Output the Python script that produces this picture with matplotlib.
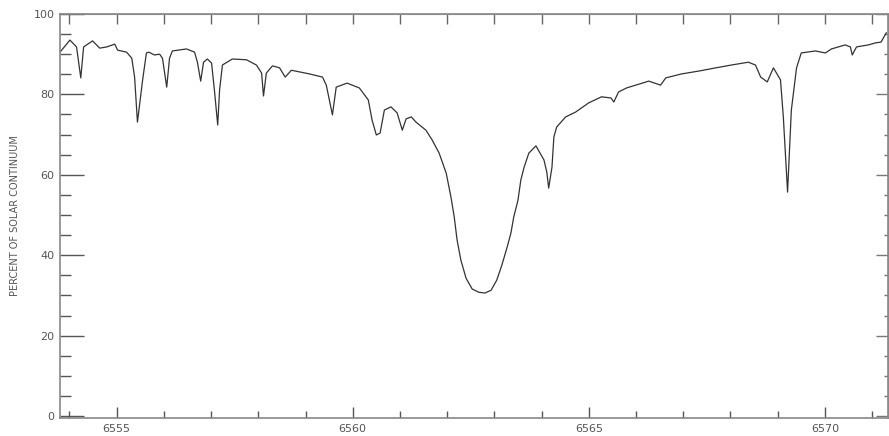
import matplotlib.pyplot as plt
from matplotlib.ticker import MultipleLocator

# Wavelength (Angstrom) and flux (percent of solar continuum)
wavelength = [6553.80, 6554.01, 6554.15, 6554.24, 6554.30, 6554.49, 6554.64, 6554.79, 6554.96,
              6555.02, 6555.21, 6555.32, 6555.38, 6555.44, 6555.55, 6555.63, 6555.68, 6555.80,
              6555.91, 6555.97, 6556.06, 6556.12, 6556.18, 6556.48, 6556.65, 6556.71, 6556.78,
              6556.84, 6556.92, 6557.01, 6557.07, 6557.14, 6557.18, 6557.24, 6557.45, 6557.75,
              6557.96, 6558.07, 6558.11, 6558.17, 6558.30, 6558.45, 6558.57, 6558.70, 6558.87,
              6559.08, 6559.36, 6559.44, 6559.57, 6559.65, 6559.88, 6560.14, 6560.33, 6560.41,
              6560.50, 6560.58, 6560.67, 6560.81, 6560.94, 6561.05, 6561.13, 6561.24, 6561.34,
              6561.55, 6561.68, 6561.83, 6561.98, 6562.08, 6562.15, 6562.21, 6562.29, 6562.40,
              6562.53, 6562.67, 6562.80, 6562.93, 6563.05, 6563.16, 6563.27, 6563.35, 6563.41,
              6563.50, 6563.56, 6563.63, 6563.73, 6563.88, 6563.99, 6564.05, 6564.11, 6564.15,
              6564.22, 6564.26, 6564.32, 6564.51, 6564.72, 6565.00, 6565.27, 6565.47, 6565.53,
              6565.63, 6565.80, 6566.27, 6566.52, 6566.63, 6566.97, 6567.33, 6567.69,
              6568.02, 6568.38, 6568.53, 6568.64, 6568.78, 6568.91, 6569.06, 6569.12, 6569.21,
              6569.29, 6569.40, 6569.50, 6569.80, 6570.01, 6570.14, 6570.43, 6570.54, 6570.58,
              6570.67, 6570.92, 6571.07, 6571.19, 6571.30]
percent = [90.5, 93.5, 91.8, 84.1, 91.8, 93.3, 91.5, 91.8, 92.5,
           91.0, 90.5, 89.0, 84.3, 73.1, 83.6, 90.3, 90.5, 89.8,
           90.0, 89.0, 81.8, 89.0, 90.8, 91.3, 90.5, 88.0, 83.3,
           88.0, 88.8, 87.8, 81.1, 72.4, 81.1, 87.3, 88.8, 88.6,
           87.3, 85.3, 79.6, 85.3, 87.1, 86.6, 84.3, 86.0, 85.6,
           85.1, 84.3, 82.3, 74.9, 81.8, 82.8, 81.6, 78.6, 73.6,
           69.9, 70.4, 76.1, 76.9, 75.4, 71.1, 73.9, 74.4, 73.1,
           71.1, 68.7, 65.4, 60.4, 54.5, 49.5, 43.8, 38.8, 34.3,
           31.6, 30.8, 30.6, 31.3, 33.8, 37.6, 42.0, 45.5, 49.5,
           53.7, 58.7, 61.9, 65.4, 67.2, 64.9, 63.7, 60.7, 56.7,
           61.9, 69.4, 71.9, 74.4, 75.6, 77.9, 79.4, 79.1, 78.1,
           80.6, 81.6, 83.3, 82.3, 84.1, 85.1, 85.8, 86.6,
           87.3, 88.0, 87.3, 84.3, 83.1, 86.6, 83.6, 74.4, 55.7,
           76.1, 86.6, 90.3, 90.8, 90.3, 91.3, 92.3, 91.8, 89.8,
           91.8, 92.3, 92.8, 93.0, 95.3]

fig = plt.figure(figsize=(8.89, 4.36), dpi=100)
ax = fig.add_axes([0.0675, 0.041, 0.931, 0.927])

ax.plot(wavelength, percent, color='#333333', lw=0.9)

ax.set_xlim(6553.80, 6571.33)
ax.set_ylim(-0.5, 100)
ax.set_ylabel('PERCENT OF SOLAR CONTINUUM', fontsize=7, color='#555555', labelpad=10)

ax.xaxis.set_major_locator(MultipleLocator(5))
ax.xaxis.set_minor_locator(MultipleLocator(1))
ax.yaxis.set_major_locator(MultipleLocator(20))
ax.yaxis.set_minor_locator(MultipleLocator(5))
ax.xaxis.set_major_formatter(lambda v, p: f'{v:.0f}')

ax.tick_params(axis='y', which='major', direction='in', length=17, width=1,
               color='#555555', labelsize=8, labelcolor='#555555', pad=4)
ax.tick_params(axis='y', which='minor', direction='in', length=8, width=1, color='#555555')
ax.tick_params(axis='x', which='major', direction='in', length=8, width=1,
               color='#555555', labelsize=8, labelcolor='#555555', pad=4)
ax.tick_params(axis='x', which='minor', direction='in', length=5, width=1, color='#555555')

for s in ax.spines.values():
    s.set_color('#888888')
    s.set_linewidth(1.2)

# top and right axes carry shorter ticks and no labels
top = ax.secondary_xaxis('top')
top.xaxis.set_major_locator(MultipleLocator(5))
top.xaxis.set_minor_locator(MultipleLocator(1))
top.tick_params(which='both', direction='in', length=7, width=1, color='#666666', labeltop=False)
top.spines['top'].set_color('#999999')

right = ax.secondary_yaxis('right')
right.yaxis.set_major_locator(MultipleLocator(20))
right.yaxis.set_minor_locator(MultipleLocator(5))
right.tick_params(which='major', direction='in', length=9, width=1, color='#777777', labelright=False)
right.tick_params(which='minor', direction='in', length=3, width=1, color='#777777', labelright=False)
right.spines['right'].set_color('#999999')

plt.savefig('out.png', dpi=100)
